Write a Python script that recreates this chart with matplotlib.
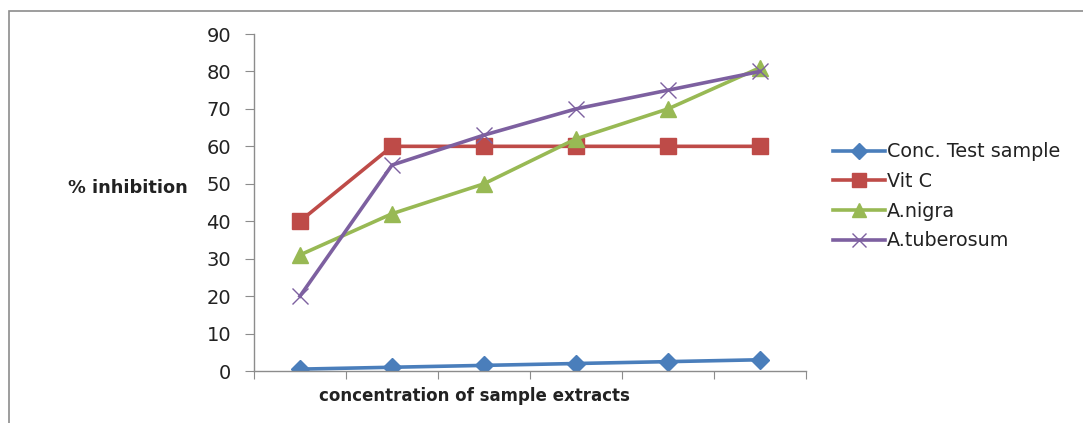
import matplotlib.pyplot as plt
import numpy as np
from matplotlib.patches import Rectangle

# series values (6 concentration steps)
conc_test = [0.5, 1.0, 1.5, 2.0, 2.5, 3.0]
vit_c = [40, 60, 60, 60, 60, 60]
a_nigra = [31, 42, 50, 62, 70, 81]
a_tuberosum = [20, 55, 63, 70, 75, 80]
series_names = ["Conc. Test sample", "Vit C", "A.nigra", "A.tuberosum"]
y_ticks = list(range(0, 100, 10))

plt.rcParams["font.family"] = ["DejaVu Sans"]

W, H = 1083, 423
fig = plt.figure(figsize=(W / 100, H / 100), dpi=100)
ax = fig.add_axes([254 / W, 1 - 371 / H, (806 - 254) / W, (371 - 34) / H])

# outer chart frame
fig.patches.append(Rectangle((9 / W, -0.05), 1.1, 1 - 11 / H + 0.05,
                             transform=fig.transFigure, fill=False,
                             edgecolor="#8c8c8c", linewidth=1.2))

x = np.arange(len(conc_test))
styles = [
    (conc_test, "#4a7ebb", "D", 9, dict()),
    (vit_c, "#be4b48", "s", 11.5, dict()),
    (a_nigra, "#98b954", "^", 12, dict()),
    (a_tuberosum, "#7d60a0", "x", 12, dict(markeredgewidth=1.0)),
]
for (vals, color, marker, ms, extra), name in zip(styles, series_names):
    ax.plot(x, vals, color=color, linewidth=2.6, marker=marker, markersize=ms,
            markerfacecolor=color, markeredgecolor=color, label=name, **extra)

ax.set_xlim(-0.5, len(conc_test) - 0.5)
ax.set_ylim(0, 90)
ax.set_yticks(y_ticks)
ax.set_xticks(np.arange(-0.5, len(conc_test), 1.0))
ax.set_xticklabels([])
ax.tick_params(axis="y", direction="out", length=6.5, color="#8c8c8c",
               labelsize=14, pad=10, labelcolor="#222222")
ax.tick_params(axis="x", direction="out", length=6, color="#8c8c8c")
for side in ("top", "right"):
    ax.spines[side].set_visible(False)
for side in ("left", "bottom"):
    ax.spines[side].set_color("#8c8c8c")
    ax.spines[side].set_linewidth(1.0)

fig.text(128 / W, 1 - 188 / H, "% inhibition", fontsize=12.8, fontweight="bold",
         ha="center", va="center", color="#222222")
fig.text(474 / W, 1 - 396 / H, "concentration of sample extracts", fontsize=12,
         fontweight="bold", ha="center", va="center", color="#222222")

leg = fig.legend(loc="upper left", bbox_to_anchor=(816 / W, 1 - 125 / H),
                 frameon=False, fontsize=13.8, handlelength=2.7,
                 handletextpad=0.1, labelspacing=0.56, markerscale=0.85)
for t in leg.get_texts():
    t.set_color("#222222")

fig.savefig("out.png", dpi=100)
